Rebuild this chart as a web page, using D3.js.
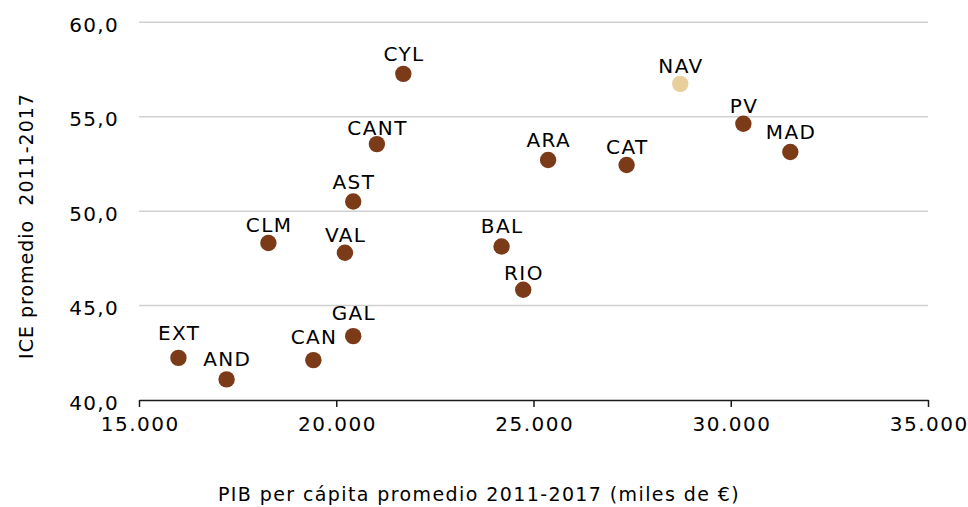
<!DOCTYPE html>
<html>
<head>
<meta charset="utf-8">
<script src="https://cdn.jsdelivr.net/npm/d3@7"></script>
<style>
  html, body { margin: 0; padding: 0; background: #ffffff; }
  svg text { font-family: "DejaVu Sans", Verdana, sans-serif; fill: #000; }
</style>
</head>
<body>
<svg id="chart" width="968" height="507"></svg>
<script>
// ---- data ----
const regions = ["CYL", "NAV", "PV", "MAD", "CANT", "ARA", "CAT", "AST", "CLM", "VAL", "BAL", "RIO", "GAL", "EXT", "AND", "CAN"];
const pibPerCapita = [21700, 28720, 30320, 31510, 21030, 25370, 27360, 20430, 18280, 20220, 24190, 24740, 20430, 16000, 17220, 19420];
const icePromedio = [57.27, 56.74, 54.63, 53.13, 53.55, 52.71, 52.44, 50.51, 48.31, 47.80, 48.13, 45.84, 43.38, 42.23, 41.09, 42.11];
const highlighted = ["NAV"];
const xTicks = [15000, 20000, 25000, 30000, 35000];
const yTicks = [40, 45, 50, 55, 60];
const xTitle = "PIB per cápita promedio 2011-2017 (miles de €)";
const yTitle = "ICE promedio  2011-2017";

// ---- layout ----
const W = 968, H = 507;
const plot = { left: 139, right: 928, top: 22.3, bottom: 400 };
const labelNudge = { CANT: -4, CAT: -2, VAL: -2, NAV: -2, PV: -2, CLM: -2, RIO: -3, EXT: 5, CAN: 3, GAL: 3 };
const baseLabelOffset = 13;
const dotColor = "#7b3b18";
const highlightColor = "#e8cf9c";
const FONT = '"DejaVu Sans", Verdana, sans-serif';

const svg = d3.select("#chart");

const x = d3.scaleLinear().domain([15000, 35000]).range([plot.left, plot.right]);
const y = d3.scaleLinear().domain([40, 60]).range([plot.bottom, plot.top]);

const fmtX = v => d3.format(",")(v).replace(/,/g, ".");
const fmtY = v => d3.format(".1f")(v).replace(".", ",");

// gridlines
svg.append("g")
  .selectAll("line")
  .data(yTicks.filter(t => t !== 40))
  .join("line")
  .attr("x1", plot.left).attr("x2", plot.right)
  .attr("y1", d => y(d)).attr("y2", d => y(d))
  .attr("stroke", "#d0d0d0").attr("stroke-width", 1.5);

// y axis labels (no line)
const yAxis = d3.axisLeft(y).tickValues(yTicks).tickFormat(fmtY).tickSize(0).tickPadding(20);
const gy = svg.append("g").attr("transform", `translate(${plot.left},0)`).call(yAxis);
gy.select(".domain").remove();
gy.selectAll("text").attr("font-family", null).attr("dy", "0.45em")
  .style("font-family", FONT).style("font-size", "20px").style("letter-spacing", "1.3px");

// x axis
const xAxis = d3.axisBottom(x).tickValues(xTicks).tickFormat(fmtX).tickSizeInner(7).tickSizeOuter(0).tickPadding(10);
const gx = svg.append("g").attr("transform", `translate(0,${plot.bottom})`).call(xAxis);
gx.select(".domain").attr("stroke", "#1a1a1a").attr("stroke-width", 1.5);
gx.selectAll(".tick line").attr("stroke", "#1a1a1a").attr("stroke-width", 1.5);
gx.selectAll("text").attr("font-family", null).attr("dx", "0.8px")
  .style("font-family", FONT).style("font-size", "20px").style("letter-spacing", "1.5px");

// points
const pts = regions.map((r, i) => ({ name: r, px: pibPerCapita[i], ice: icePromedio[i] }));

svg.append("g")
  .selectAll("circle")
  .data(pts)
  .join("circle")
  .attr("cx", d => x(d.px))
  .attr("cy", d => y(d.ice))
  .attr("r", 8.2)
  .attr("fill", d => highlighted.includes(d.name) ? highlightColor : dotColor);

svg.append("g")
  .selectAll("text")
  .data(pts)
  .join("text")
  .attr("x", d => x(d.px) + 0.7)
  .attr("y", d => y(d.ice) - baseLabelOffset - (labelNudge[d.name] || 0))
  .attr("text-anchor", "middle")
  .style("font-size", "20px")
  .style("letter-spacing", "1.4px")
  .text(d => d.name);

// axis titles
svg.append("text")
  .attr("x", 479).attr("y", 500.5)
  .attr("text-anchor", "middle")
  .style("font-size", "19px")
  .style("letter-spacing", "1.4px")
  .style("white-space", "pre")
  .attr("xml:space", "preserve")
  .text(xTitle);

svg.append("text")
  .attr("transform", `translate(33,226) rotate(-90)`)
  .attr("text-anchor", "middle")
  .style("font-size", "19px")
  .style("letter-spacing", "1px")
  .style("white-space", "pre")
  .attr("xml:space", "preserve")
  .text(yTitle);
</script>
</body>
</html>
